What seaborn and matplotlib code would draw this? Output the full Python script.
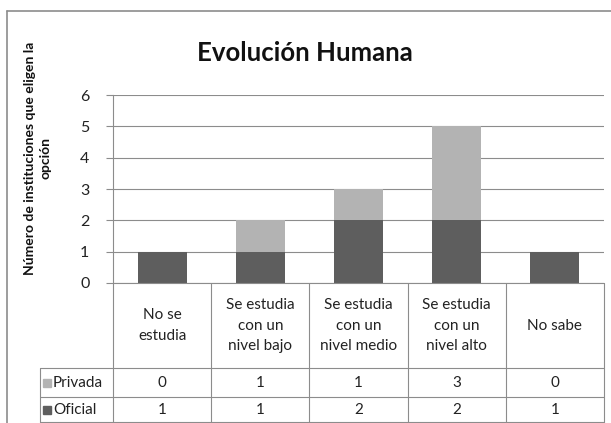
import seaborn as sns
import matplotlib.pyplot as plt
import pandas as pd

categorias = ["No se\nestudia", "Se estudia\ncon un\nnivel bajo", "Se estudia\ncon un\nnivel medio",
              "Se estudia\ncon un\nnivel alto", "No sabe"]
privada = [0, 1, 1, 3, 0]
oficial = [1, 1, 2, 2, 1]
series = ["Privada", "Oficial"]
colores = {"Privada": "#b3b3b3", "Oficial": "#5e5e5e"}
yticks = [0, 1, 2, 3, 4, 5, 6]

sns.set_style("white")
plt.rcParams['font.family'] = ['Lato', 'DejaVu Sans']

W, H = 611, 423
fig = plt.figure(figsize=(W / 100, H / 100), dpi=100)

# pixel helpers (top-left origin)
def fx(px):
    return px / W

def fy(py):
    return 1 - py / H

x0, x1, y_top, y_zero = 113, 604, 95, 283
ax = fig.add_axes([fx(x0), fy(y_zero), fx(x1) - fx(x0), fy(y_top) - fy(y_zero)])

df = pd.DataFrame({"cat": categorias, "Privada": privada, "Oficial": oficial})
df["total"] = df["Privada"] + df["Oficial"]

sns.barplot(data=df, x="cat", y="total", color=colores["Privada"], width=0.5,
            saturation=1, ax=ax, zorder=3, linewidth=0)
sns.barplot(data=df, x="cat", y="Oficial", color=colores["Oficial"], width=0.5,
            saturation=1, ax=ax, zorder=4, linewidth=0)

ax.set_ylim(0, 6)
ax.set_xlim(-0.5, len(categorias) - 0.5)
ax.set_yticks(yticks)
ax.set_yticklabels([str(t) for t in yticks], fontsize=11.5, color="#222222")
ax.set_xticks([])
ax.set_xlabel("")
ax.set_ylabel("")
ax.grid(axis="y", color="#8c8c8c", linewidth=0.8, zorder=0)
for s in ["top", "right", "bottom"]:
    ax.spines[s].set_visible(False)
ax.spines["left"].set_color("#8c8c8c")
ax.spines["left"].set_linewidth(0.8)
ax.tick_params(axis="y", length=5, color="#8c8c8c", width=0.8, left=True, pad=12)

# title and axis title
fig.text(fx(305), fy(53), "Evolución Humana", ha="center", va="center",
         fontsize=18.5, fontweight="bold", color="#111111")
fig.text(fx(38), fy(158), "Número de instituciones que eligen la\nopción", rotation=90,
         ha="center", va="center", fontsize=10, fontweight="bold", linespacing=1.3,
         color="#111111")

# outer chart border
fig.add_artist(plt.Line2D([fx(7), fx(7)], [fy(11), 0], transform=fig.transFigure,
                          color="#8c8c8c", linewidth=1.2))
fig.add_artist(plt.Line2D([fx(7), 1], [fy(11), fy(11)], transform=fig.transFigure,
                          color="#8c8c8c", linewidth=1.2))

# data table
grid_c = "#8c8c8c"
col_w = (x1 - x0) / len(categorias)
row_h_top, row_priv, row_ofi, row_end = 283, 368, 397, 423
tab_left = 40

def hline(y, xa, xb):
    fig.add_artist(plt.Line2D([fx(xa), fx(xb)], [fy(y), fy(y)], transform=fig.transFigure,
                              color=grid_c, linewidth=0.8))

def vline(x, ya, yb):
    fig.add_artist(plt.Line2D([fx(x), fx(x)], [fy(ya), fy(yb)], transform=fig.transFigure,
                              color=grid_c, linewidth=0.8))

hline(row_h_top, x0, x1)
hline(row_priv, tab_left, x1)
hline(row_ofi, tab_left, x1)
hline(row_end - 1, tab_left, x1)
for i in range(len(categorias) + 1):
    vline(x0 + i * col_w, row_h_top, row_end)
vline(tab_left, row_priv, row_end)

for i, c in enumerate(categorias):
    cx = x0 + (i + 0.5) * col_w
    fig.text(fx(cx), fy((row_h_top + row_priv) / 2), c, ha="center", va="center",
             fontsize=11, linespacing=1.6, color="#222222")
    fig.text(fx(cx), fy((row_priv + row_ofi) / 2), str(privada[i]), ha="center",
             va="center", fontsize=11, color="#222222")
    fig.text(fx(cx), fy((row_ofi + row_end) / 2), str(oficial[i]), ha="center",
             va="center", fontsize=11, color="#222222")

for name, (ya, yb) in zip(series, [(row_priv, row_ofi), (row_ofi, row_end)]):
    cy = (ya + yb) / 2
    fig.add_artist(plt.Rectangle((fx(43), fy(cy + 4)), fx(8), 8 / H,
                                 transform=fig.transFigure, color=colores[name]))
    fig.text(fx(53), fy(cy), name, ha="left", va="center", fontsize=11, color="#222222")

fig.savefig("out.png", dpi=100)
